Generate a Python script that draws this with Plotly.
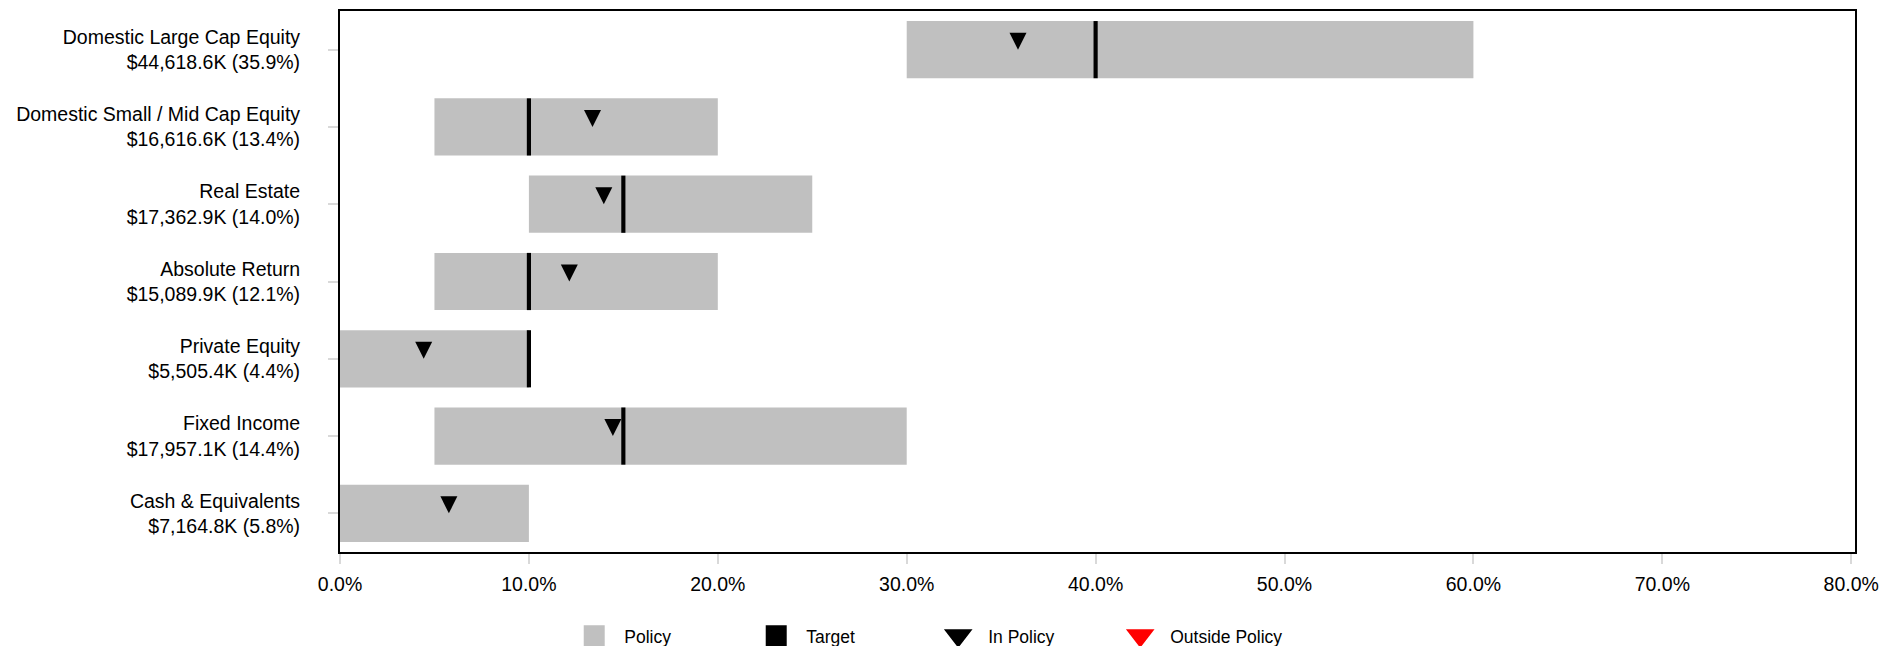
import plotly.graph_objects as go

# Asset classes, top to bottom
categories = [
    "Domestic Large Cap Equity",
    "Domestic Small / Mid Cap Equity",
    "Real Estate",
    "Absolute Return",
    "Private Equity",
    "Fixed Income",
    "Cash & Equivalents",
]
# Market value of each asset class, in $ thousands
market_values_k = [44618.6, 16616.6, 17362.9, 15089.9, 5505.4, 17957.1, 7164.8]
# Policy ranges and targets, % of total
policy_min = [30, 5, 10, 5, 0, 5, 0]
policy_max = [60, 20, 25, 20, 10, 30, 10]
targets = [40, 10, 15, 10, 10, 15, None]
x_tick_values = [0, 10, 20, 30, 40, 50, 60, 70, 80]
x_tick_labels = ["0.0%", "10.0%", "20.0%", "30.0%", "40.0%", "50.0%", "60.0%", "70.0%", "80.0%"]

total = sum(market_values_k)
actual_pct = [v / total * 100 for v in market_values_k]
labels = [
    f"{name}<br>${v:,.1f}K ({p:.1f}%)"
    for name, v, p in zip(categories, market_values_k, actual_pct)
]

POLICY_COLOR = "#c0c0c0"
TARGET_HALF_WIDTH = 0.11  # half thickness of the target marker, in % units
BAR_WIDTH = 0.74
FONT = "Liberation Sans, Arial, Helvetica"

fig = go.Figure()

# Policy range bars
fig.add_trace(go.Bar(
    y=labels,
    x=[hi - lo for lo, hi in zip(policy_min, policy_max)],
    base=policy_min,
    orientation="h",
    width=BAR_WIDTH,
    marker=dict(color=POLICY_COLOR, line=dict(width=0)),
    name="Policy",
    showlegend=False,
))

# Target ticks drawn as thin black bars centred on each target
fig.add_trace(go.Bar(
    y=labels,
    x=[2 * TARGET_HALF_WIDTH if t is not None else None for t in targets],
    base=[t - TARGET_HALF_WIDTH if t is not None else None for t in targets],
    orientation="h",
    width=BAR_WIDTH,
    marker=dict(color="black", line=dict(width=0)),
    name="Target",
    showlegend=False,
))

# Current allocation markers (tip sits on the actual weight)
fig.add_trace(go.Scatter(
    y=labels,
    x=actual_pct,
    mode="markers",
    marker=dict(symbol="arrow-down", size=17, color="black", line=dict(width=0)),
    name="In Policy",
    showlegend=False,
))

# Legend entries
legend_items = [
    ("Policy", "square", POLICY_COLOR),
    ("Target", "square", "black"),
    ("In Policy", "triangle-down", "black"),
    ("Outside Policy", "triangle-down", "red"),
]
for name, symbol, color in legend_items:
    fig.add_trace(go.Scatter(
        x=[None], y=[None], mode="markers", name=name,
        marker=dict(symbol=symbol, size=16, color=color, line=dict(width=5, color=color)),
        showlegend=True,
    ))

fig.update_layout(
    width=1879,
    height=646,
    margin=dict(l=340, r=24, t=11, b=94, autoexpand=False),
    paper_bgcolor="white",
    plot_bgcolor="white",
    barmode="overlay",
    font=dict(family=FONT, color="black"),
    showlegend=True,
    legend=dict(
        orientation="h",
        x=0.148, xanchor="left",
        y=-0.155, yanchor="middle",
        font=dict(family=FONT, size=17.5, color="black"),
        itemwidth=50,
        entrywidth=117,
        traceorder="normal",
        bgcolor="rgba(0,0,0,0)",
    ),
    xaxis=dict(
        range=[0, 80.2],
        tickvals=x_tick_values,
        ticktext=x_tick_labels,
        ticks="outside",
        ticklen=10,
        tickwidth=1.5,
        tickcolor="#d9d9d9",
        ticklabelstandoff=4,
        ticklabeloverflow="allow",
        tickfont=dict(family=FONT, size=19.5, color="black"),
        showgrid=False,
        zeroline=False,
        showline=True,
        linecolor="black",
        linewidth=2,
        mirror=True,
    ),
    yaxis=dict(
        type="category",
        categoryorder="array",
        categoryarray=labels,
        autorange="reversed",
        ticks="outside",
        ticklen=10,
        tickwidth=1.5,
        tickcolor="#d9d9d9",
        ticklabelstandoff=24,
        tickfont=dict(family=FONT, size=19.5, color="black"),
        showgrid=False,
        zeroline=False,
        showline=True,
        linecolor="black",
        linewidth=2,
        mirror=True,
    ),
)

fig.write_html("out.html")
